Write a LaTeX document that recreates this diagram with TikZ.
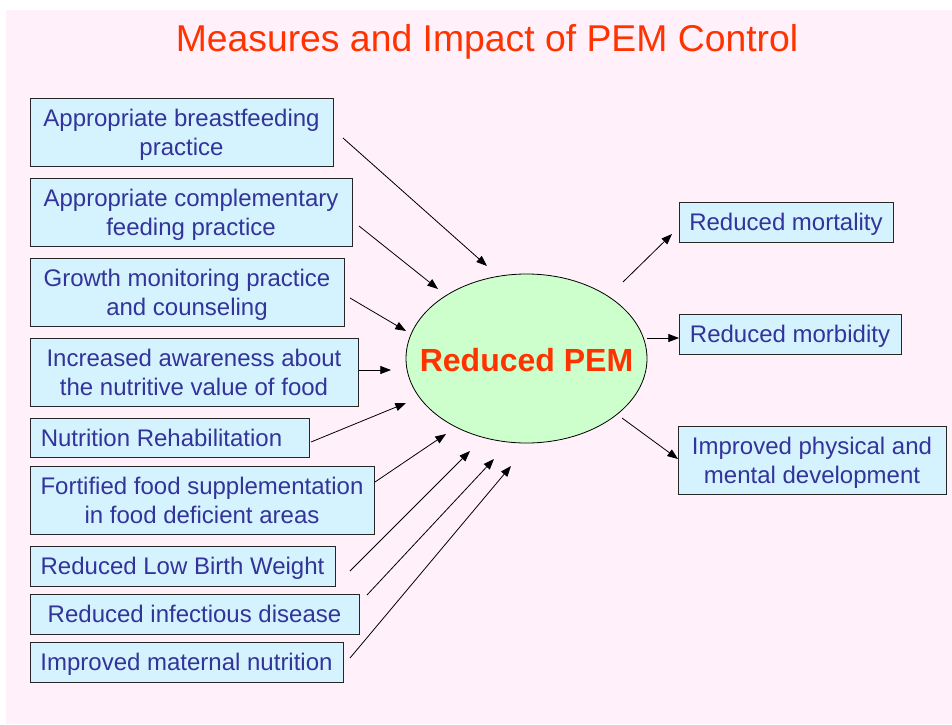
\documentclass[tikz,border=0pt]{standalone}
\usepackage{fontspec}
\setmainfont{Liberation Sans}
\usetikzlibrary{arrows.meta,shapes.geometric}
\definecolor{bgpink}{RGB}{255,240,250}
\definecolor{boxfill}{RGB}{212,243,255}
\definecolor{boxtext}{RGB}{51,51,153}
\definecolor{titlered}{RGB}{255,51,0}
\definecolor{ellfill}{RGB}{204,255,204}
\tikzset{
  x=0.75pt, y=-0.75pt,
  mbox/.style={draw=black!85, line width=0.7pt, fill=boxfill, text=boxtext,
    font=\fontsize{18pt}{21.75pt}\selectfont, align=center, inner sep=0pt, text depth=0pt},
  conn/.style={draw=black, line width=0.6pt, -{Triangle[length=8pt,width=6pt]}},
}
\begin{document}
\begin{tikzpicture}
\useasboundingbox (0,0) rectangle (952,724);
\fill[bgpink] (6,10) rectangle (952,724);
\node[anchor=base, text=titlered, font=\fontsize{28pt}{32pt}\selectfont] (title) at (487,52) {Measures and Impact of PEM Control};

% left boxes
\node[mbox, minimum width=303*0.75pt, minimum height=68*0.75pt] (b1) at (181.5,132) {Appropriate breastfeeding\\practice};
\node[mbox, minimum width=322*0.75pt, minimum height=68*0.75pt] (b2) at (191,212) {Appropriate complementary\\feeding practice};
\node[mbox, minimum width=314*0.75pt, minimum height=68*0.75pt] (b3) at (187,292) {Growth monitoring practice\\and counseling};
\node[mbox, minimum width=328*0.75pt, minimum height=68*0.75pt] (b4) at (194,372) {Increased awareness about\\the nutritive value of food};
\node[mbox, minimum width=279*0.75pt, minimum height=39*0.75pt] (b5) at (169.5,437.5) {Nutrition Rehabilitation\hspace*{12pt}};
\node[mbox, minimum width=344*0.75pt, minimum height=68*0.75pt] (b6) at (202,500) {Fortified food supplementation\\in food deficient areas};
\node[mbox, minimum width=305*0.75pt, minimum height=40*0.75pt] (b7) at (182.5,566) {Reduced Low Birth Weight};
\node[mbox, minimum width=329*0.75pt, minimum height=40*0.75pt] (b8) at (194.5,614) {Reduced infectious disease};
\node[mbox, minimum width=313*0.75pt, minimum height=40*0.75pt] (b9) at (186.5,662) {Improved maternal nutrition};

% right boxes
\node[mbox, minimum width=214*0.75pt, minimum height=40*0.75pt] (r1) at (786,222) {Reduced mortality};
\node[mbox, minimum width=222*0.75pt, minimum height=40*0.75pt] (r2) at (790,334) {Reduced morbidity};
\node[mbox, minimum width=268*0.75pt, minimum height=68*0.75pt] (r3) at (812,460) {Improved physical and\\mental development};

% centre ellipse
\node[ellipse, draw=black, line width=0.6pt, fill=ellfill, minimum width=241*0.75pt, minimum height=169*0.75pt, inner sep=0pt] (pem) at (526.5,358.5) {};
\node[text=titlered, font=\fontsize{24pt}{28pt}\selectfont\bfseries, anchor=base] (pemtxt) at (526.5,371) {Reduced PEM};

% connector ends
\coordinate (s1) at (343,138); \coordinate (e1) at (487,266);
\coordinate (s2) at (359,226); \coordinate (e2) at (438,289);
\coordinate (s3) at (350,298); \coordinate (e3) at (406,331);
\coordinate (s4) at (359,370); \coordinate (e4) at (391,370);
\coordinate (s5) at (311,442); \coordinate (e5) at (406,403);
\coordinate (s6) at (375,482); \coordinate (e6) at (446,434);
\coordinate (s7) at (350,571); \coordinate (e7) at (470,451);
\coordinate (s8) at (367,595); \coordinate (e8) at (494,459);
\coordinate (s9) at (350,658); \coordinate (e9) at (511,466);
\coordinate (t1) at (623,282); \coordinate (u1) at (672,234);
\coordinate (t2) at (647,338); \coordinate (u2) at (679,338);
\coordinate (t3) at (622,418); \coordinate (u3) at (678,459);

\foreach \i in {1,...,9} { \draw[conn] (s\i) -- (e\i); }
\foreach \i in {1,2,3} { \draw[conn] (t\i) -- (u\i); }
\end{tikzpicture}
\end{document}
